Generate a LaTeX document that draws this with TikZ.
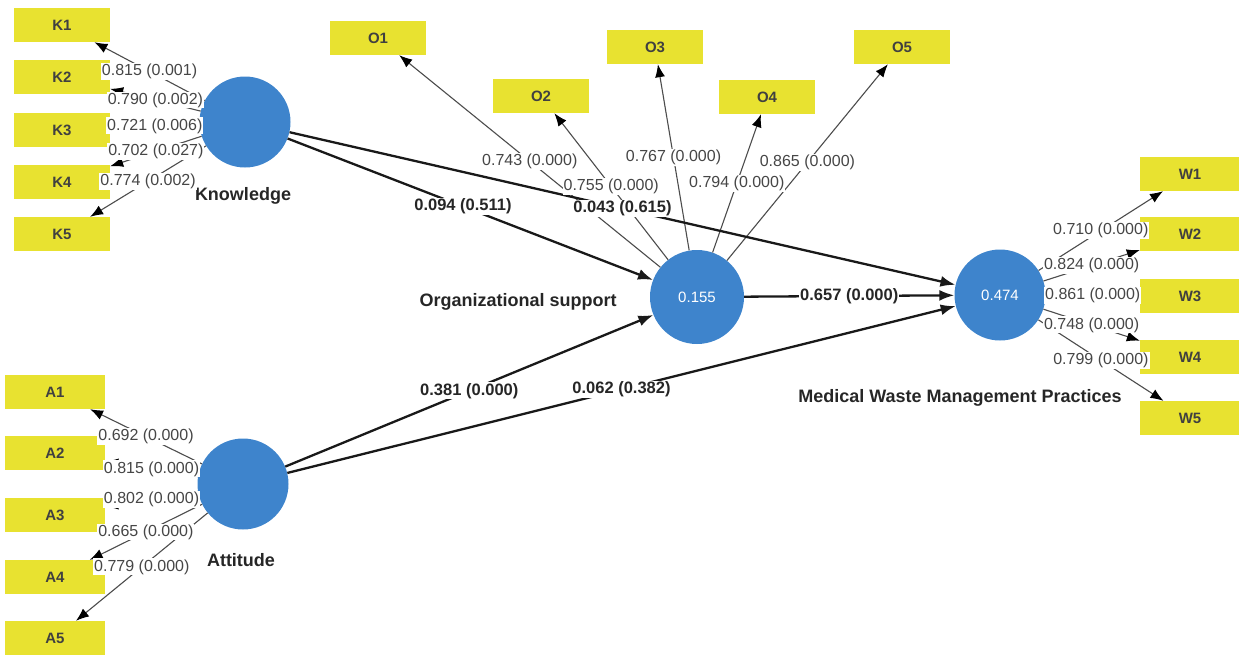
\documentclass[tikz,border=0pt]{standalone}
\usepackage{fontspec}
\setmainfont{Liberation Sans}
\usetikzlibrary{arrows.meta}
\definecolor{plsYellow}{RGB}{232,226,48}
\definecolor{plsBlue}{RGB}{62,132,204}
\definecolor{plsGray}{RGB}{70,70,70}

\begin{document}
\begin{tikzpicture}[
            x=1pt, y=-1pt,
            indNode/.style={fill=plsYellow, minimum width=96pt, minimum height=34pt, inner sep=0pt, font=\fontsize{15}{17}\selectfont\bfseries, text=black!75},
            latNode/.style={circle, fill=plsBlue, minimum size=91pt, inner sep=0pt, font=\fontsize{15}{17}\selectfont, text=white},
            latName/.style={font=\fontsize{18}{20}\selectfont\bfseries, text=black!85},
            loadArrow/.style={-{Latex[length=13pt,width=10pt,fill=black,color=black]}, draw=black!70, line width=1.1pt},
            pathArrow/.style={-{Latex[length=15pt,width=11pt]}, draw=black!90, line width=2.3pt},
            loadLbl/.style={fill=white, inner sep=1pt, font=\fontsize{16}{18}\selectfont, text=plsGray},
            pathLbl/.style={fill=white, inner sep=1pt, font=\fontsize{16.5}{18}\selectfont\bfseries, text=black!85}
        ]

        \useasboundingbox (0,0) rectangle (1239,656);

        % indicators
        \node [indNode] (k1) at (62,25) {K1};
        \node [indNode] (k2) at (62,77) {K2};
        \node [indNode] (k3) at (62,130) {K3};
        \node [indNode] (k4) at (62,182) {K4};
        \node [indNode] (k5) at (62,234) {K5};

        \node [indNode, minimum width=100pt] (a1) at (55,392) {A1};
        \node [indNode, minimum width=100pt] (a2) at (55,453) {A2};
        \node [indNode, minimum width=100pt] (a3) at (55,515) {A3};
        \node [indNode, minimum width=100pt] (a4) at (55,577) {A4};
        \node [indNode, minimum width=100pt] (a5) at (55,638) {A5};

        \node [indNode] (o1) at (378,38) {O1};
        \node [indNode] (o2) at (541,96) {O2};
        \node [indNode] (o3) at (655,47) {O3};
        \node [indNode] (o4) at (767,97) {O4};
        \node [indNode] (o5) at (902,47) {O5};

        \node [indNode, minimum width=100pt] (w1) at (1190,174) {W1};
        \node [indNode, minimum width=100pt] (w2) at (1190,234) {W2};
        \node [indNode, minimum width=100pt] (w3) at (1190,296) {W3};
        \node [indNode, minimum width=100pt] (w4) at (1190,357) {W4};
        \node [indNode, minimum width=100pt] (w5) at (1190,418) {W5};

        % latent variables
        \node [latNode] (know) at (245,122) {};
        \node [latNode] (att) at (243,484) {};
        \node [latNode, minimum size=94pt] (org) at (697,297) {0.155};
        \node [latNode] (mwmp) at (1000,295) {0.474};

        \node [latName] (knowName) at (243,196) {Knowledge};
        \node [latName] (attName) at (241,560) {Attitude};
        \node [latName] (orgName) at (518,302) {Organizational support};
        \node [latName] (mwmpName) at (960,398) {Medical Waste Management Practices};

        % outer loadings
        \foreach \i in {1,...,5} {
            \draw [loadArrow] (know) -- (k\i);
            \draw [loadArrow] (att) -- (a\i);
            \draw [loadArrow] (org) -- (o\i);
            \draw [loadArrow] (mwmp) -- (w\i);
        }

        % paths
        \draw [pathArrow] (know) -- (org);
        \draw [pathArrow] (know) -- (mwmp);
        \draw [pathArrow] (att) -- (org);
        \draw [pathArrow] (att) -- (mwmp);
        \draw [pathArrow] (org) -- (mwmp);

        % labels on top
        \path (know) -- (k1) node [midway, loadLbl] {0.815 (0.001)};
        \path (know) -- (k2) node [midway, loadLbl] {0.790 (0.002)};
        \path (know) -- (k3) node [midway, loadLbl] {0.721 (0.006)};
        \path (know) -- (k4) node [midway, loadLbl] {0.702 (0.027)};
        \path (know) -- (k5) node [midway, loadLbl] {0.774 (0.002)};

        \path (att) -- (a1) node [midway, loadLbl] {0.692 (0.000)};
        \path (att) -- (a2) node [midway, loadLbl] {0.815 (0.000)};
        \path (att) -- (a3) node [midway, loadLbl] {0.802 (0.000)};
        \path (att) -- (a4) node [midway, loadLbl] {0.665 (0.000)};
        \path (att) -- (a5) node [midway, loadLbl] {0.779 (0.000)};

        \path (org) -- (o1) node [midway, loadLbl] {0.743 (0.000)};
        \path (org) -- (o2) node [midway, loadLbl] {0.755 (0.000)};
        \path (org) -- (o3) node [midway, loadLbl] {0.767 (0.000)};
        \path (org) -- (o4) node [midway, loadLbl] {0.794 (0.000)};
        \path (org) -- (o5) node [midway, loadLbl] {0.865 (0.000)};

        \path (mwmp) -- (w1) node [midway, loadLbl] {0.710 (0.000)};
        \path (mwmp) -- (w2) node [midway, loadLbl] {0.824 (0.000)};
        \path (mwmp) -- (w3) node [midway, loadLbl] {0.861 (0.000)};
        \path (mwmp) -- (w4) node [midway, loadLbl] {0.748 (0.000)};
        \path (mwmp) -- (w5) node [midway, loadLbl] {0.799 (0.000)};

        \path (know) -- (org) node [pos=0.48, pathLbl] {0.094 (0.511)};
        \path (know) -- (mwmp) node [midway, pathLbl] {0.043 (0.615)};
        \path (att) -- (org) node [midway, pathLbl] {0.381 (0.000)};
        \path (att) -- (mwmp) node [midway, pathLbl] {0.062 (0.382)};
        \path (org) -- (mwmp) node [midway, pathLbl] {0.657 (0.000)};

    \end{tikzpicture}
\end{document}
